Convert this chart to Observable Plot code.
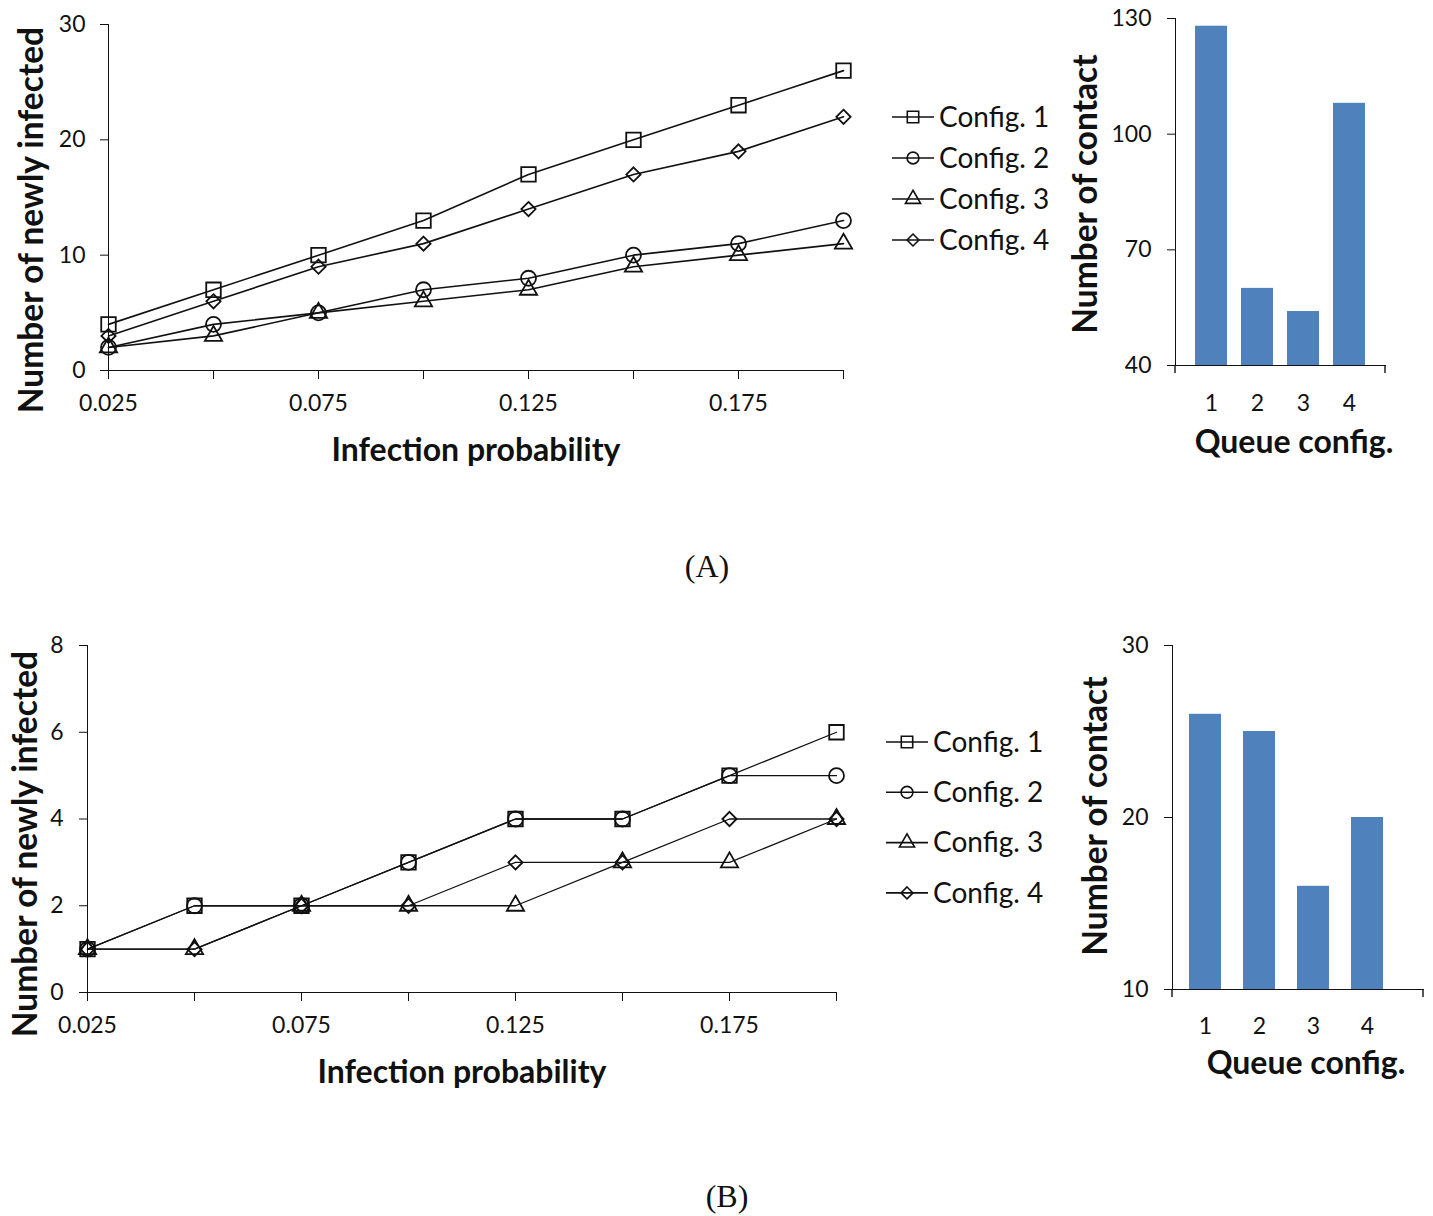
<!DOCTYPE html>
<html><head><meta charset="utf-8">
<script src="https://cdn.jsdelivr.net/npm/d3@7"></script>
<script src="https://cdn.jsdelivr.net/npm/@observablehq/plot@0.6"></script>
<style>
body{margin:0;background:#fff;}
#page{position:relative;width:1433px;height:1216px;overflow:hidden;font-family:Lato,sans-serif;color:#111;background:#fff;}
.box{position:absolute;}
.t{position:absolute;font-weight:bold;font-size:32px;white-space:nowrap;transform:translate(-50%,-50%);line-height:1;}
.v{font-size:33.5px;transform:translate(-50%,-50%) rotate(-90deg);}
.cap{position:absolute;font-family:"Liberation Serif",serif;font-size:32px;white-space:nowrap;transform:translate(-50%,-50%);line-height:1;}
</style></head>
<body><div id="page"></div>
<script>
// ---- data ----
const probs = [0.025, 0.05, 0.075, 0.1, 0.125, 0.15, 0.175, 0.2];
const xTickLabels = ["0.025", "0.075", "0.125", "0.175"];
const configs = ["Config. 1", "Config. 2", "Config. 3", "Config. 4"];
// Panel A: number of newly infected
const infA1 = [4, 7, 10, 13, 17, 20, 23, 26];
const infA2 = [2, 4, 5, 7, 8, 10, 11, 13];
const infA3 = [2, 3, 5, 6, 7, 9, 10, 11];
const infA4 = [3, 6, 9, 11, 14, 17, 19, 22];
// Panel B
const infB1 = [1, 2, 2, 3, 4, 4, 5, 6];
const infB2 = [1, 2, 2, 3, 4, 4, 5, 5];
const infB3 = [1, 1, 2, 2, 2, 3, 3, 4];
const infB4 = [1, 1, 2, 2, 3, 3, 4, 4];
// bar charts: number of contact
const queueConfigs = ["1", "2", "3", "4"];
const contactA = [128, 60, 54, 108];
const contactB = [26, 25, 16, 20];
const yTicksLineA = [0, 10, 20, 30];
const yTicksLineB = [0, 2, 4, 6, 8];
const yTicksBarA = [40, 70, 100, 130];
const yTicksBarB = [10, 20, 30];

const symbolNames = ["square", "circle", "triangle", "diamond2"];
const symbolR = [8.2, 7.5, 6.4, 6.4];
const d3Symbols = [d3.symbolSquare, d3.symbolCircle, d3.symbolTriangle, d3.symbolDiamond2];
const page = document.getElementById("page");

function place(el, left, top) {
  const d = document.createElement("div");
  d.className = "box"; d.style.left = left + "px"; d.style.top = top + "px";
  d.appendChild(el); page.appendChild(d);
}
function text(cls, str, x, y) {
  const d = document.createElement("div");
  d.className = cls; d.textContent = str;
  d.style.left = x + "px"; d.style.top = y + "px";
  page.appendChild(d);
}

function lineChart(series, yTicks, o) {
  const rows = configs.flatMap((c, i) => probs.map((p, j) => ({config: c, k: i, p, v: series[i][j]})));
  return Plot.plot({
    width: o.width, height: o.height,
    marginLeft: o.ml, marginRight: o.mr, marginTop: o.mt, marginBottom: o.mb,
    style: {fontFamily: "Lato", fontSize: "23px", background: "transparent", color: "#111"},
    x: {domain: [probs[0], probs[probs.length - 1]], ticks: probs,
        tickFormat: d => { const s = d3.format(".3f")(d); return xTickLabels.includes(s) ? s : ""; },
        tickSize: 9, tickPadding: 15, line: true, label: null},
    y: {domain: [yTicks[0], yTicks[yTicks.length - 1]], ticks: yTicks, tickFormat: d => String(d),
        tickSize: 8, tickPadding: o.ytp, line: true, label: null},
    marks: [
      Plot.line(rows, {x: "p", y: "v", z: "config", stroke: "#111", strokeWidth: o.sw}),
      ...configs.map((c, i) => Plot.dot(rows.filter(r => r.k === i),
        {x: "p", y: "v", symbol: symbolNames[i], r: symbolR[i], fill: "none", stroke: "#111", strokeWidth: 1.8}))
    ]
  });
}

function barChart(values, yTicks, o) {
  const rows = queueConfigs.map((q, i) => ({q, v: values[i]}));
  // small tick marks at both ends of the category axis (Excel style)
  const endTicks = (index, scales, values, dim) => {
    const g = d3.create("svg:g");
    const y0 = dim.height - dim.marginBottom;
    [dim.marginLeft, dim.width - dim.marginRight].forEach(x => {
      g.append("line").attr("x1", x).attr("x2", x).attr("y1", y0).attr("y2", y0 + 8)
        .attr("stroke", "#111").attr("stroke-width", 1.4);
    });
    return g.node();
  };
  return Plot.plot({
    width: o.width, height: o.height,
    marginLeft: o.ml, marginRight: o.mr, marginTop: o.mt, marginBottom: o.mb,
    style: {fontFamily: "Lato", fontSize: "23px", background: "transparent", color: "#111"},
    x: {type: "band", domain: queueConfigs, paddingInner: o.pi, paddingOuter: o.po, align: o.align,
        tickSize: 0, tickPadding: o.xtp, line: true, label: null},
    y: {domain: [yTicks[0], yTicks[yTicks.length - 1]], ticks: yTicks, tickFormat: d => String(d),
        tickSize: 8, tickPadding: 16, line: true, label: null},
    marks: [
      Plot.barY(rows, {x: "q", y1: yTicks[0], y2: "v", fill: "#4F81BD"}),
      endTicks
    ]
  });
}

function legend(rowGap, lineLen, o) {
  const w = 200, h = rowGap * 4 + 10;
  const svg = d3.create("svg").attr("width", w).attr("height", h)
    .style("font-family", "Lato").style("font-size", o.fs + "px");
  configs.forEach((c, i) => {
    const y = 20 + i * rowGap;
    const g = svg.append("g").attr("transform", `translate(0,${y})`);
    g.append("line").attr("x1", 2).attr("x2", 2 + lineLen).attr("stroke", "#111").attr("stroke-width", 1.6);
    g.append("path").attr("transform", `translate(${2 + lineLen / 2},0)`)
      .attr("d", d3.symbol(d3Symbols[i], o.sizes[i])()).attr("fill", "none").attr("stroke", "#111").attr("stroke-width", 1.6);
    g.append("text").attr("x", lineLen + 7).attr("dy", "0.35em").attr("fill", "#111").text(c);
  });
  return svg.node();
}

// ---- Panel A ----
place(lineChart([infA1, infA2, infA3, infA4], yTicksLineA,
  {width: 870, height: 430, ml: 108, mr: 27, mt: 24, mb: 60, ytp: 15, sw: 1.6}), 0, 0);
text("t v", "Number of newly infected", 31, 220);
text("t", "Infection probability", 476, 449);
place(legend(41, 42, {fs: 28, sizes: [130, 110, 100, 90]}), 890, 97);
place(barChart(contactA, yTicksBarA,
  {width: 300, height: 420, ml: 75, mr: 15, mt: 18, mb: 55, pi: 0.31, po: 0.4, align: 0.5, xtp: 29}), 1100, 0);
text("t v", "Number of contact", 1085, 194);
text("t", "Queue config.", 1294, 441);
text("cap", "(A)", 707, 566);

// ---- Panel B ----
place(lineChart([infB1, infB2, infB3, infB4], yTicksLineB,
  {width: 870, height: 430, ml: 87, mr: 34, mt: 25, mb: 58, ytp: 16, sw: 1.3}), 0, 620);
text("t v", "Number of newly infected", 25, 844);
text("t", "Infection probability", 462, 1071);
place(legend(50.3, 42, {fs: 28, sizes: [130, 110, 100, 90]}), 884, 722);
place(barChart(contactB, yTicksBarB,
  {width: 333, height: 420, ml: 72, mr: 10, mt: 25, mb: 51, pi: 0.4, po: 0.486, align: 0.3, xtp: 28}), 1100, 620);
text("t v", "Number of contact", 1095, 816);
text("t", "Queue config.", 1306, 1062);
text("cap", "(B)", 727, 1196);
</script>
</body></html>
